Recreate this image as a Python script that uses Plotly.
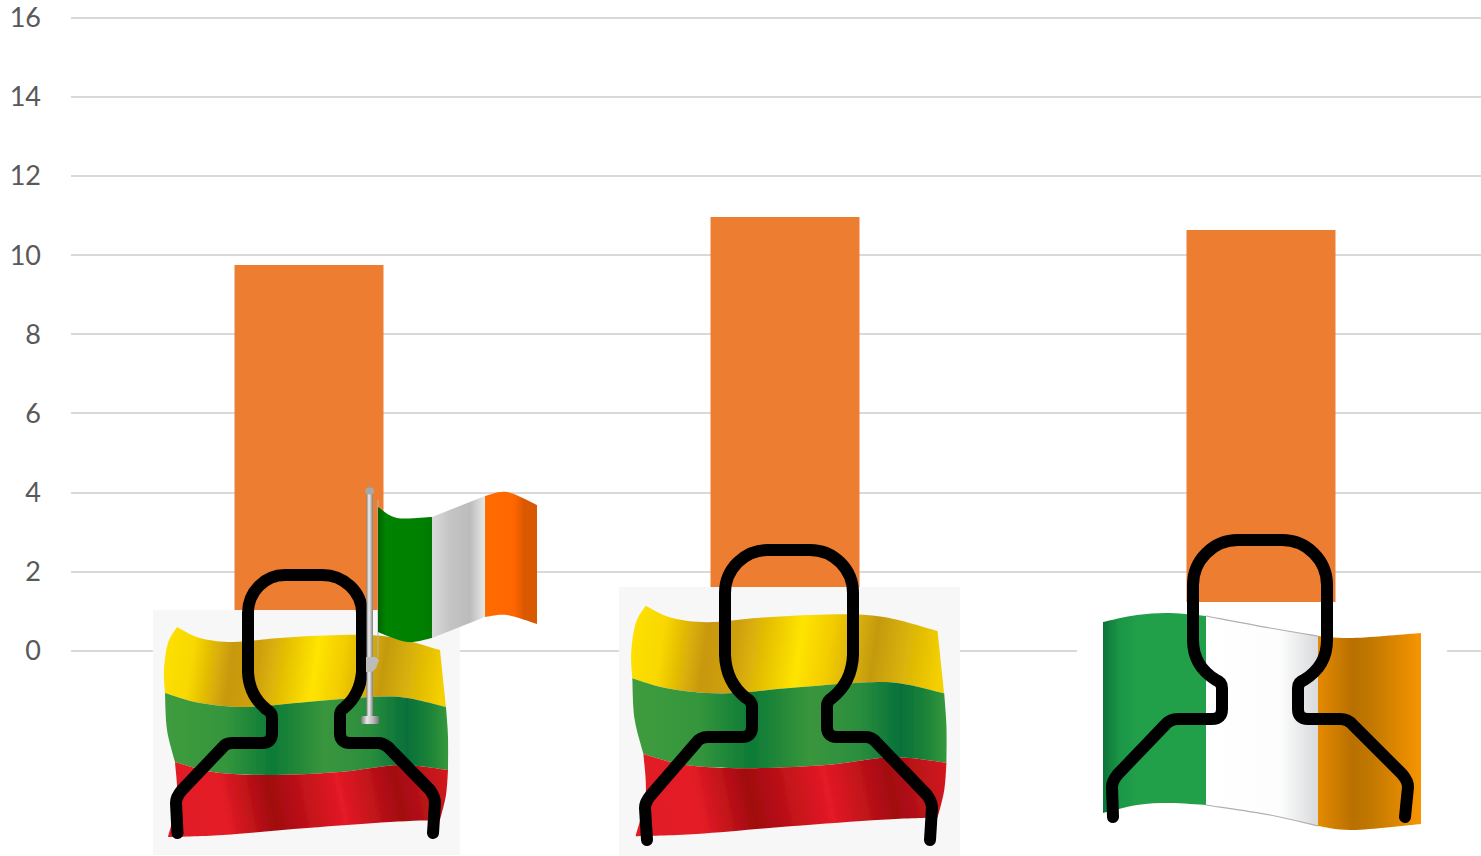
import base64
import plotly.graph_objects as go

# Chart data
categories = [0, 1, 2]
values = [9.75, 10.96, 10.63]
y_ticks = [0, 2, 4, 6, 8, 10, 12, 14, 16]
W, H = 1481, 856


def smooth(pts, move=True):
    """Catmull-Rom curve through pts, written as SVG cubic segments."""
    d = f"M{pts[0][0]},{pts[0][1]}" if move else f"L{pts[0][0]},{pts[0][1]}"
    for i in range(len(pts) - 1):
        p0 = pts[max(i - 1, 0)]
        p1, p2 = pts[i], pts[i + 1]
        p3 = pts[min(i + 2, len(pts) - 1)]
        c1 = (p1[0] + (p2[0] - p0[0]) / 6, p1[1] + (p2[1] - p0[1]) / 6)
        c2 = (p2[0] - (p3[0] - p1[0]) / 6, p2[1] - (p3[1] - p1[1]) / 6)
        d += f" C{c1[0]:.1f},{c1[1]:.1f} {c2[0]:.1f},{c2[1]:.1f} {p2[0]},{p2[1]}"
    return d


def band(top, right, bottom, left):
    """Closed outline from a top edge, right side, bottom edge and left side."""
    return (smooth(top) + " " + smooth(right, False) + " "
            + smooth(bottom[::-1], False) + " " + smooth(left, False) + " Z")


def gradient(gid, stops, x1, x2, y1=0, y2=0):
    s = "".join(f'<stop offset="{(x - x1) / (x2 - x1):.3f}" stop-color="{c}"/>' for x, c in stops)
    return (f'<linearGradient id="{gid}" gradientUnits="userSpaceOnUse" '
            f'x1="{x1}" y1="{y1}" x2="{x2}" y2="{y2}">{s}</linearGradient>')


defs = "".join([
    '<filter id="soft" x="-5%" y="-5%" width="110%" height="110%"><feGaussianBlur stdDeviation="0.6"/></filter>',
    gradient("ly", [(164, "#ffe100"), (196, "#f8d800"), (235, "#c8980c"), (262, "#cfa00a"),
                    (318, "#ffe400"), (345, "#f2cc04"), (385, "#c49a0e"), (445, "#f4d000")], 164, 445, 625, 665),
    gradient("lg", [(165, "#3f9c3e"), (225, "#35963c"), (272, "#0c7a36"), (325, "#3a963c"),
                    (370, "#2a8e3c"), (407, "#06703a"), (430, "#1c8438"), (448, "#36983c")], 165, 448, 720, 720),
    gradient("lr", [(168, "#e01c24"), (225, "#e41c26"), (272, "#a00a0e"), (340, "#e41a26"),
                    (395, "#a20c10"), (448, "#d41a20")], 168, 448, 825, 770),
    gradient("ig", [(378, "#006400"), (386, "#008300"), (420, "#008000"), (432, "#007a00")], 378, 432),
    gradient("iw", [(432, "#dadada"), (450, "#c4c4c4"), (470, "#bcbcbc"), (485, "#e8e8e8")], 432, 485),
    gradient("io", [(485, "#ff6c00"), (514, "#ff6600"), (524, "#da5800"), (537, "#d85a00")], 485, 537),
    gradient("bg", [(1103, "#0c7438"), (1120, "#1c9646"), (1140, "#22a04a"), (1206, "#22a04a")], 1103, 1206),
    gradient("bw", [(1206, "#ffffff"), (1280, "#fdfdfd"), (1318, "#d8dadc")], 1206, 1318),
    gradient("bo", [(1318, "#e58a00"), (1353, "#b87000"), (1372, "#c27800"), (1421, "#f79500")], 1318, 1421),
    gradient("pole", [(366.5, "#8a8a8a"), (369, "#f0f0f0"), (373, "#808080")], 366.5, 373),
    gradient("cap", [(361, "#777777"), (367, "#e8e8e8"), (373, "#bbbbbb"), (379, "#777777")], 361, 379),
])

# Lithuanian tricolour, wavy outline
l_top = [(177, 627), (200, 638), (233, 642), (280, 638), (340, 635), (390, 637), (440, 650)]
l_mid1 = [(165, 693), (200, 703), (247, 707), (307, 702), (373, 697), (407, 698), (446, 707)]
l_mid2 = [(175, 762), (213, 772), (267, 775), (340, 772), (400, 765), (448, 770)]
l_bot = [(168, 837), (223, 835), (307, 828), (390, 822), (440, 820)]
lithuania = (
    f'<path fill="url(#ly)" d="{band(l_top, [(440, 650), (446, 707)], l_mid1, [(165, 693), (164, 670), (168, 643), (177, 627)])}"/>'
    f'<path fill="url(#lg)" d="{band(l_mid1, [(446, 707), (448, 737), (448, 770)], l_mid2, [(175, 762), (167, 730), (165, 693)])}"/>'
    f'<path fill="url(#lr)" d="{band(l_mid2, [(448, 770), (446, 795), (440, 820)], l_bot, [(168, 837), (177, 800), (175, 762)])}"/>'
)

# Small Irish flag on its pole
s_top = [(378, 507), (397, 518), (432, 517), (485, 496), (507, 492), (537, 505)]
s_bot = [(378, 632), (407, 642), (432, 638), (485, 617), (507, 615), (537, 624)]
small_irish = (
    '<path d="M369.5,482 L371,490 L368,490 Z" fill="#999"/>'
    '<rect x="366.5" y="489" width="6.5" height="228" fill="url(#pole)"/>'
    '<ellipse cx="369.7" cy="491" rx="4.5" ry="3.5" fill="#a8a8a8"/>'
    '<path d="M378,500 L378,657" stroke="#b5b5b5" stroke-width="1" fill="none"/>'
    '<path d="M366,657 L376,657 L379,660 L376,668 L372,672 L366,672 Z" fill="#bcbcbc"/>'
    '<rect x="361" y="716" width="18" height="8" rx="2" fill="url(#cap)"/>'
    f'<path fill="url(#ig)" d="{smooth(s_top[:3])} L432,638 {smooth(s_bot[:3][::-1], False)} Z"/>'
    f'<path fill="url(#iw)" d="M432,517 L485,496 L485,617 L432,638 Z"/>'
    f'<path fill="url(#io)" d="{smooth(s_top[3:])} L537,624 {smooth(s_bot[3:][::-1], False)} Z"/>'
)

# Large Irish flag
big_irish = (
    f'<path fill="url(#bg)" d="{smooth([(1103, 622), (1137, 615), (1170, 613), (1206, 616)])} L1206,805 '
    f'{smooth([(1206, 805), (1170, 803), (1137, 805), (1103, 813)], False)} Z"/>'
    f'<path fill="url(#bw)" d="{smooth([(1206, 616), (1270, 628), (1318, 636)])} L1318,826 '
    f'{smooth([(1318, 826), (1270, 815), (1206, 805)], False)} Z"/>'
    f'<path fill="url(#bo)" d="{smooth([(1318, 636), (1353, 638), (1421, 633)])} L1421,824 '
    f'{smooth([(1421, 824), (1353, 830), (1318, 826)], False)} Z"/>'
    f'<path fill="none" stroke="#b0b0b0" stroke-width="1.2" d="{smooth([(1206, 616), (1270, 628), (1318, 636)])}"/>'
    f'<path fill="none" stroke="#b0b0b0" stroke-width="1.2" d="{smooth([(1318, 826), (1270, 815), (1206, 805)])}"/>'
)

# Head-and-shoulders outlines
person_left = ("M177.5,833 L176,803 Q176,797 182,790 L223,747 Q226,743 232,743 L262,743 Q272,743 272,733 "
               "L272,718 Q272,712 266,709 Q249,695 248,672 L248,613 A37,38 0 0 1 285,575 L322,575 A40,38 0 0 1 362,613 "
               "L362,672 Q360,695 344,708 Q340,710 340,716 L340,733 Q340,743 350,743 L378,743 Q383,743 388,747 "
               "L430,790 Q435,797 435,803 L433,833")
person_mid = ("M647,840 L645,808 Q645,802 651,795 L696,743 Q700,737 708,737 L742,737 Q752,737 752,727 "
              "L752,706 Q752,701 746,698 Q726,682 725,655 L725,593 A43,43 0 0 1 768,550 L810,550 A43,43 0 0 1 853,593 "
              "L853,655 Q852,682 832,698 Q827,701 827,706 L827,727 Q827,737 837,737 L866,737 Q872,737 877,743 "
              "L927,795 Q932,802 932,808 L930,840")
person_right = ("M1113,817 L1112,787 Q1112,781 1118,774 L1165,725 Q1170,719 1178,719 L1212,719 Q1222,719 1222,709 "
                "L1222,688 Q1222,682 1216,680 Q1193,666 1193,640 L1193,585 A45,45 0 0 1 1238,540 L1282,540 A45,45 0 0 1 1327,585 "
                "L1327,640 Q1327,666 1304,680 Q1298,682 1298,688 L1298,709 Q1298,719 1308,719 L1340,719 Q1348,719 1353,725 "
                "L1402,774 Q1408,781 1408,787 L1405,817")


def outline(d):
    return (f'<path d="{d}" fill="none" stroke="#000000" stroke-width="12" '
            'stroke-linecap="round" stroke-linejoin="round"/>')


svg = (
    f'<svg xmlns="http://www.w3.org/2000/svg" width="{W}" height="{H}" viewBox="0 0 {W} {H}">'
    f'<defs>{defs}<g id="lt">{lithuania}</g></defs>'
    '<rect x="153" y="610" width="307" height="245" fill="#f7f7f7"/>'
    f'<g filter="url(#soft)"><use href="#lt"/>{outline(person_left)}{small_irish}</g>'
    '<rect x="619" y="587" width="341" height="269" fill="#f7f7f7"/>'
    '<g filter="url(#soft)"><g transform="translate(619,587) scale(1.11,1.098) translate(-153,-610)"><use href="#lt"/></g>'
    f'{outline(person_mid)}</g>'
    '<rect x="1077" y="602" width="370" height="233" fill="#ffffff"/>'
    f'<g filter="url(#soft)">{big_irish}{outline(person_right)}</g>'
    '</svg>'
)
overlay = "data:image/svg+xml;base64," + base64.b64encode(svg.encode()).decode()

UNIT = (651 - 17.5) / 16  # pixels per y unit

fig = go.Figure(go.Bar(x=categories, y=values, width=0.313, marker=dict(color="#ED7D31", line_width=0),
                       hoverinfo="skip"))
fig.update_layout(
    width=W, height=H, margin=dict(l=0, r=0, t=0, b=0, pad=0),
    paper_bgcolor="white", plot_bgcolor="white", showlegend=False,
    xaxis=dict(domain=[71 / W, 1], range=[-0.5, -0.5 + 1410 / 476], showgrid=False, zeroline=False,
               showticklabels=False, ticks="", showline=False, automargin=False),
    yaxis=dict(domain=[0, 1], range=[-(H - 651) / UNIT, 651 / UNIT], tickvals=y_ticks, showgrid=True,
               gridcolor="#D9D9D9", gridwidth=1.6, zeroline=False, showline=False, ticks="", automargin=False,
               ticklabelstandoff=29, ticklabeloverflow="allow",
               tickfont=dict(family="Lato", size=27, color="#595959")),
    images=[dict(source=overlay, xref="paper", yref="paper", x=0, y=1, sizex=1, sizey=1,
                 xanchor="left", yanchor="top", sizing="stretch", layer="above")],
)
fig.write_html("out.html", config=dict(displayModeBar=False))
